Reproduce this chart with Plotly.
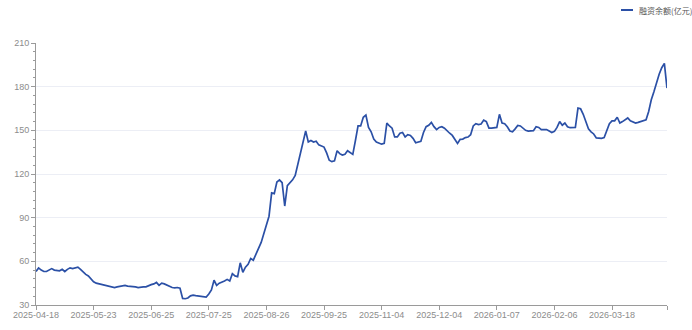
import pandas as pd
import plotly.graph_objects as go

# Trading-day categories (China A-share calendar)
start_date = "2025-04-18"
end_date = "2026-04-17"
holidays = [
    "2025-05-01", "2025-05-02", "2025-05-05", "2025-06-02",
    "2025-10-01", "2025-10-02", "2025-10-03", "2025-10-06", "2025-10-07", "2025-10-08",
    "2026-01-01", "2026-01-02",
    "2026-02-16", "2026-02-17", "2026-02-18", "2026-02-19", "2026-02-20", "2026-02-23",
    "2026-04-06",
]
dates = [d.strftime("%Y-%m-%d") for d in pd.bdate_range(start_date, end_date)
         if d.strftime("%Y-%m-%d") not in holidays]

series_name = "融资余额(亿元)"
margin_balance = [
    53, 55.5, 54, 53, 53, 54, 55, 54, 53.5, 53.5,
    54.5, 53, 54.5, 55.5, 55, 55.5, 56, 54.5, 52.5, 51,
    50, 48, 46, 45, 44.5, 44, 43.5, 43.5, 43, 42.5,
    42, 42.5, 43, 43.5, 43.5, 43, 43, 42.5, 42.5, 42,
    42.5, 42.5, 42.5, 43.5, 44, 44.5, 45.5, 43.5, 45, 44.5,
    43.5, 42.5, 42, 41.8, 42, 41.5, 34.5, 34.3, 34.8, 36.3,
    36.8, 36.5, 36.3, 36.2, 36, 35.5, 37.5, 40.3, 47, 43.5,
    45, 45.5, 46.5, 47.6, 46.5, 51.5, 50, 49.5, 59, 52.5,
    56, 58, 62, 60.8, 65, 68.5, 73, 79, 85, 91,
    107, 106.5, 114.5, 116, 114, 98, 112, 114, 116, 119,
    127, 135, 142, 149.5, 142, 143, 142, 142.5, 140, 139,
    138.5, 134.5, 129.5, 128.5, 129, 136, 134, 133, 133.5, 136,
    135, 133.5, 143, 153, 153, 159, 160.5, 152, 149, 144,
    142, 141.5, 140.5, 141, 155, 153, 151.5, 145.5, 145.5, 148,
    148.5, 145.5, 147, 146.5, 144.5, 141.5, 142, 142.5, 148.5, 152.5,
    153.5, 155.5, 152.5, 150.5, 152, 152.5, 151.5, 149.5, 148, 146.5,
    144, 141, 143.8, 144, 145, 145.4, 147, 153, 154.6, 154,
    154.3, 157, 156, 151.5, 151.5, 151.6, 152, 161, 155, 154.5,
    152.5, 149.5, 149, 151, 153.3, 153, 151.5, 150, 149.5, 149.5,
    149.8, 152.5, 152, 150.5, 150.5, 150.5, 149.5, 148.5, 149.3, 152,
    156, 153.5, 155, 152.5, 151.8, 152, 152, 165.3, 164.8, 161,
    155.5, 151, 149, 147.5, 144.8, 144.5, 144.5, 145, 149.5, 154.5,
    156.5, 156.5, 159, 155, 156, 157, 158.5, 156.5, 155.5, 155,
    155.5, 156, 156.5, 157.3, 163, 171, 176.5, 183, 188.5, 193,
    196, 179,
]
n = min(len(dates), len(margin_balance))
dates = dates[:n]
margin_balance = margin_balance[:n]

y_ticks = [30, 60, 90, 120, 150, 180, 210]
label_step = 22

line_color = "#2b50a6"
axis_color = "#9a9a9a"
label_color = "#8c8c8c"
font_family = "Liberation Sans, Noto Sans CJK SC, sans-serif"

tick_idx = list(range(0, n, label_step))
tickvals = [dates[i] for i in tick_idx] + [dates[n - 1]]
ticktext = [dates[i] for i in tick_idx] + [""]

fig = go.Figure()
fig.add_trace(go.Scatter(
    x=dates, y=margin_balance, mode="lines", name=series_name,
    line=dict(color=line_color, width=1.7), showlegend=False,
))

fig.update_layout(
    width=692, height=330,
    margin=dict(l=36, r=25, t=43, b=25),
    paper_bgcolor="white", plot_bgcolor="white",
    font=dict(family=font_family, size=9, color=label_color),
    xaxis=dict(
        type="category", range=[0, n - 1], automargin=False,
        tickmode="array", tickvals=tickvals, ticktext=ticktext,
        showline=True, linecolor=axis_color, linewidth=1,
        ticks="outside", ticklen=4, tickcolor=axis_color,
        ticklabelstandoff=-3,
        showgrid=False, zeroline=False,
        tickfont=dict(size=9, color=label_color),
    ),
    yaxis=dict(
        range=[30, 210], tickmode="array", tickvals=y_ticks, automargin=False,
        showline=True, linecolor=axis_color, linewidth=1,
        ticks="outside", ticklen=4, tickcolor=axis_color,
        showgrid=True, gridcolor="#eceef5", gridwidth=1,
        zeroline=False,
        minor=dict(dtick=6, ticks="outside", ticklen=2, tickcolor=axis_color, showgrid=False),
        tickfont=dict(size=9, color=label_color),
    ),
    shapes=[dict(type="line", xref="paper", yref="paper",
                 x0=(621 - 36) / 631, x1=(633 - 36) / 631,
                 y0=(330 - 10 - 25) / 262, y1=(330 - 10 - 25) / 262,
                 line=dict(color=line_color, width=2))],
    annotations=[dict(text=series_name, xref="paper", yref="paper",
                      x=(637 - 36) / 631, y=(330 - 10 - 25) / 262,
                      xanchor="left", yanchor="middle", showarrow=False,
                      font=dict(size=8, color="#555555", family="Noto Sans CJK SC, sans-serif"))],
)

fig.write_html("out.html")
